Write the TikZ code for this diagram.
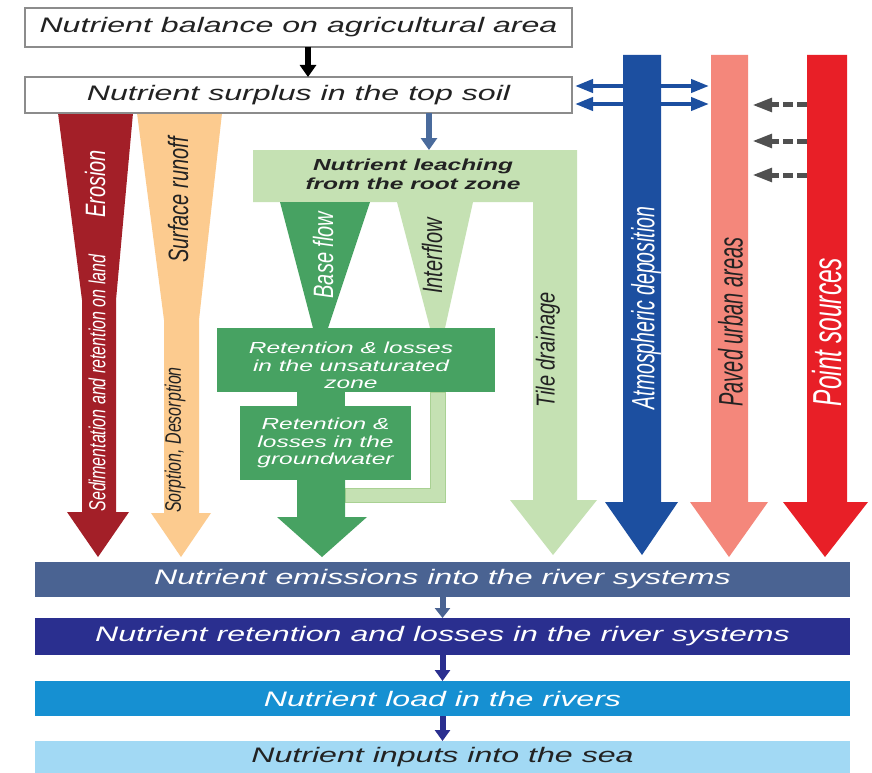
\documentclass[tikz,border=0pt]{standalone}
\usepackage{fontspec}
\setmainfont{Liberation Sans}
\usepackage{graphicx}
\usetikzlibrary{arrows.meta}
\definecolor{ero}{HTML}{A31F28}
\definecolor{run}{HTML}{FCCB8F}
\definecolor{lgr}{HTML}{C5E1B3}
\definecolor{lgrd}{HTML}{A9D193}
\definecolor{dgr}{HTML}{47A262}
\definecolor{atm}{HTML}{1C4FA0}
\definecolor{pav}{HTML}{F4877B}
\definecolor{pnt}{HTML}{E81F27}
\definecolor{emi}{HTML}{4A6392}
\definecolor{ret}{HTML}{2A2F8F}
\definecolor{load}{HTML}{1690D2}
\definecolor{sea}{HTML}{A2D9F4}
\definecolor{arrb}{HTML}{4A6B9C}
\definecolor{dsh}{HTML}{505050}
\definecolor{boxgray}{HTML}{8C8C8C}
\definecolor{txt}{HTML}{222222}
\newcommand{\wideX}[1]{\scalebox{1.53}[1]{#1}}
\newcommand{\tallY}[2][1.4]{\scalebox{1}[#1]{#2}}
\begin{document}
\begin{tikzpicture}[x=1pt,y=-1pt,
  box/.style={draw=boxgray, line width=1.2pt, fill=white, inner sep=0pt, outer sep=0pt,
    text=txt, font=\itshape\fontsize{21}{25}\selectfont},
  rbox/.style={fill=#1, draw=none, inner sep=0pt, outer sep=0pt, minimum width=815pt,
    font=\itshape\fontsize{21}{25}\selectfont},
  vtxt/.style={rotate=90, inner sep=0pt, font=\itshape\fontsize{20}{24}\selectfont},
  gtxt/.style={inner sep=0pt, align=center, text=white, font=\itshape\fontsize{16}{17.5}\selectfont},
  fatarrow/.style={line width=6pt, -{Triangle[width=16pt,length=12pt]}},
  dblarrow/.style={atm, line width=4pt, {Triangle[width=13pt,length=18pt]}-{Triangle[width=13pt,length=18pt]}},
  dsharrow/.style={dsh, line width=5pt, dash pattern=on 10pt off 4pt, -{Triangle[width=13pt,length=20pt]}}
]
\useasboundingbox (0,0) rectangle (872,773);
\fill[white] (0,0) rectangle (872,773);

% ---- left tapering arrows
\fill[ero] (58,113) -- (133,113) -- (116,300) -- (116,512) -- (129,512) -- (98,557) -- (67,512) -- (82,512) -- (82,300) -- cycle;
\fill[run] (137,113) -- (222,113) -- (199,320) -- (199,513) -- (211,513) -- (181,557) -- (151,513) -- (164,513) -- (164,320) -- cycle;

% ---- leaching / tile drainage
\fill[lgr] (253,150) -- (577,150) -- (577,500) -- (597,500) -- (553,555) -- (510,500) -- (533,500) -- (533,202) -- (253,202) -- cycle;
% interflow
\fill[lgr] (397,202) -- (473,202) -- (445,328) -- (430,328) -- cycle;
\filldraw[fill=lgr, draw=lgrd, line width=0.8pt] (430,392) -- (445,392) -- (445,502) -- (345,502) -- (345,488) -- (430,488) -- cycle;
% base flow
\fill[dgr] (280,202) -- (370,202) -- (328,328) -- (313,328) -- cycle;
\fill[dgr] (297,392) rectangle (345,406);
\fill[dgr] (297,480) -- (345,480) -- (345,517) -- (367,517) -- (322,557) -- (277,517) -- (297,517) -- cycle;
\node[fill=dgr, inner sep=0pt, outer sep=0pt, minimum width=278pt, minimum height=64pt] (unsat) at (356,360) {};
\node[gtxt] (tunsat) at (351,365.5) {\wideX{Retention \& losses}\\\wideX{in the unsaturated}\\\wideX{zone}};
\node[fill=dgr, gtxt, minimum width=171pt, minimum height=74pt] (gw) at (325.5,443) {\wideX{Retention \&}\\\wideX{losses in the}\\\wideX{groundwater}};

% ---- right vertical arrows
\fill[atm] (623,55) -- (661,55) -- (661,502) -- (678,502) -- (642,555) -- (605,502) -- (623,502) -- cycle;
\fill[pav] (711,55) -- (748,55) -- (748,502) -- (768,502) -- (729,557) -- (690,502) -- (711,502) -- cycle;
\fill[pnt] (807,55) -- (847,55) -- (847,502) -- (868,502) -- (825,557) -- (783,502) -- (807,502) -- cycle;

% ---- top boxes
\node[box, minimum width=547pt, minimum height=39pt] (bal) at (298.5,27.5) {\wideX{Nutrient balance on agricultural area}};
\node[box, minimum width=547pt, minimum height=36pt] (sur) at (298.5,95) {\wideX{Nutrient surplus in the top soil}};
\draw[fatarrow, black] ([xshift=9.5pt]bal.south) -- ([xshift=9.5pt]sur.north);
\coordinate (leachtop) at (429,150);
\draw[fatarrow, arrb] ([xshift=130.5pt]sur.south) -- (leachtop);

% ---- double arrows and dashed arrows
\coordinate (dl1) at (575,86);  \coordinate (dr1) at (709,86);
\coordinate (dl2) at (575,104); \coordinate (dr2) at (709,104);
\draw[dblarrow] (dl1) -- (dr1);
\draw[dblarrow] (dl2) -- (dr2);
\foreach \yy/\nm in {105/a,141/b,175/c}{
  \coordinate (ps\nm) at (807,\yy);
  \coordinate (pu\nm) at (752,\yy);
  \draw[dsharrow] (ps\nm) -- (pu\nm);
}

% ---- rotated labels
\node[vtxt, text=white] (terosion) at (95,184) {\tallY{Erosion}};
\node[vtxt, text=white, font=\itshape\fontsize{16}{19}\selectfont] (tsed) at (97,383) {\tallY[1.45]{Sedimentation and retention on land}};
\node[vtxt, text=txt] (trun) at (178,200) {\tallY{Surface runoff}};
\node[vtxt, text=txt, font=\itshape\fontsize{16}{19}\selectfont] (tsorp) at (175,440) {\tallY[1.4]{Sorption, Desorption}};
\node[inner sep=0pt, align=center, text=txt, font=\bfseries\itshape\fontsize{16}{19}\selectfont] (tleach) at (413,174) {\wideX{Nutrient leaching}\\\wideX{from the root zone}};
\node[vtxt, text=white] (tbase) at (323,255) {\tallY{Base flow}};
\node[vtxt, text=txt] (tinter) at (432,256) {\tallY{Interflow}};
\node[vtxt, text=txt] (ttile) at (548,350) {\tallY[1.3]{Tile drainage}};
\node[vtxt, text=white, font=\itshape\fontsize{19.5}{23}\selectfont] (tatm) at (646,308) {\tallY[1.65]{Atmospheric deposition}};
\node[vtxt, text=txt] (tpav) at (730.5,322) {\tallY[1.7]{Paved urban areas}};
\node[vtxt, text=white, font=\itshape\fontsize{24.5}{28}\selectfont] (tpnt) at (827.5,332) {\tallY[1.65]{Point sources}};

% ---- bottom boxes
\node[rbox=emi, minimum height=35pt, text=white] (emis) at (442.5,579.5) {\wideX{Nutrient emissions into the river systems}};
\node[rbox=ret, minimum height=37pt, text=white] (reten) at (442.5,636.5) {\wideX{Nutrient retention and losses in the river systems}};
\node[rbox=load, minimum height=35pt, text=white] (loadb) at (442.5,698.5) {\wideX{Nutrient load in the rivers}};
\node[rbox=sea, minimum height=32pt, text=txt] (seab) at (442.5,757) {\wideX{Nutrient inputs into the sea}};
\draw[emi, line width=6pt, -{Triangle[width=15pt,length=10pt]}] (emis.south) -- (reten.north);
\draw[ret, line width=6pt, -{Triangle[width=15pt,length=11pt]}] (reten.south) -- (loadb.north);
\draw[ret, line width=6pt, -{Triangle[width=15pt,length=11pt]}] (loadb.south) -- (seab.north);
\end{tikzpicture}
\end{document}
